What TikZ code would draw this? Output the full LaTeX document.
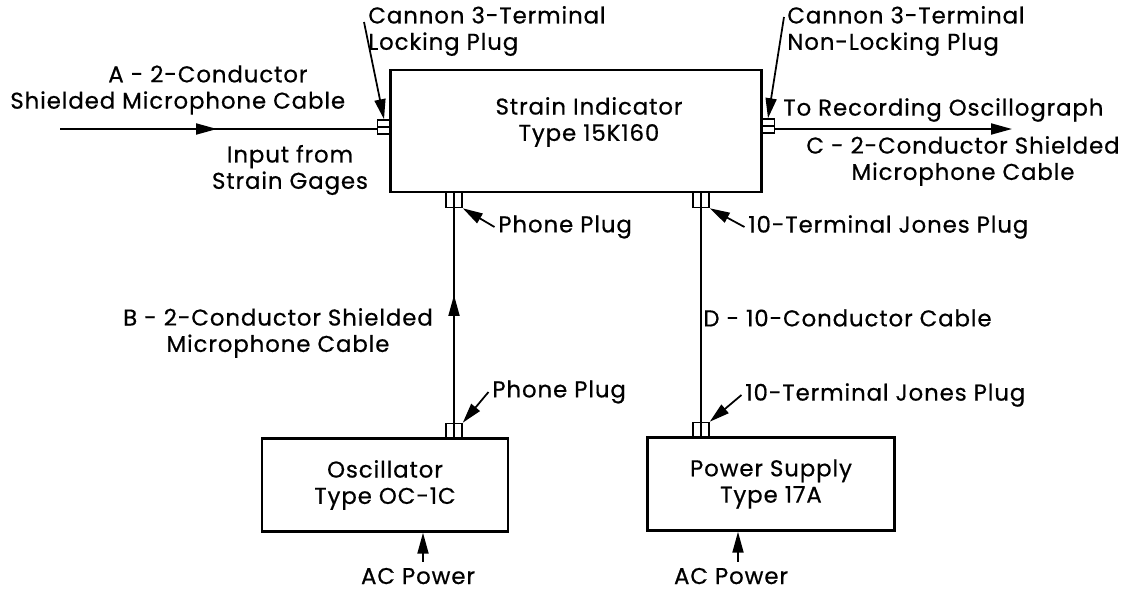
\documentclass[tikz,border=0pt]{standalone}
\usepackage{fontspec}
\setmainfont{Poppins}[FakeBold=0.6, LetterSpace=4]
\usetikzlibrary{positioning, arrows.meta}

\newcommand\lettering{\fontsize{13pt}{15pt}\selectfont}

\begin{document}
\begin{tikzpicture}[
    x=0.02cm, y=-0.02cm, % one unit per pixel of the drawing
    every node/.style={font=\lettering},
    unit/.style={draw, line width=1.4pt},
    plugh/.style={draw, line width=0.9pt, minimum width=0.26cm, minimum height=0.28cm, inner sep=0pt,
        path picture={\draw[line width=0.9pt] (path picture bounding box.west) -- (path picture bounding box.east);}},
    plugv/.style={draw, line width=0.9pt, minimum width=0.32cm, minimum height=0.3cm, inner sep=0pt,
        path picture={\draw[line width=0.9pt] (path picture bounding box.north) -- (path picture bounding box.south);}},
    note/.style={align=left, inner sep=0pt, anchor=west},
    cable/.style={line width=1.1pt},
    tip/.style={-{Triangle[length=0.42cm, width=0.22cm]}},
    lead/.style={line width=1pt, -{Triangle[length=0.4cm, width=0.22cm]}}
]
    \useasboundingbox (0,0) rectangle (1134,592);

    % Place the units
    \node[unit, minimum width=7.42cm, minimum height=2.44cm] (ind) at (576,131) {};
    \node[align=center, inner sep=0pt] (indText) at (589,122) {Strain Indicator\\Type 15K160};
    \node[unit, align=center, minimum width=4.92cm, minimum height=1.86cm] (osc) at (385,485) {Oscillator\\Type OC-1C};
    \node[unit, align=center, minimum width=4.94cm, minimum height=1.86cm] (psu) at (771,484) {Power Supply\\Type 17A};

    % Plugs
    \node[plugh] (pA) at (384,127) {};
    \node[plugh] (pC) at (768,126) {};
    \node[plugv] (pB1) at (454,200) {};
    \node[plugv] (pD1) at (701,200) {};
    \node[plugv] (pB2) at (454,431) {};
    \node[plugv] (pD2) at (701,430) {};

    % Labels
    \node[note] (cannonA) at (368,31) {Cannon 3-Terminal\\Locking Plug};
    \node[note] (cannonC) at (787,31) {Cannon 3-Terminal\\Non-Locking Plug};
    \node[note] (cableA) at (10,90) {\hspace*{1.96cm}A - 2-Conductor\\Shielded Microphone Cable};
    \node[align=center, inner sep=0pt] (input) at (290,170) {Input from\\Strain Gages};
    \node[note] (toC) at (783,110) {To Recording Oscillograph};
    \node[align=center, inner sep=0pt] (cableC) at (963,161) {C - 2-Conductor Shielded\\Microphone Cable};
    \node[note] (phone1) at (498,227) {Phone Plug};
    \node[note] (jones1) at (748,227) {10-Terminal Jones Plug};
    \node[align=center, inner sep=0pt] (cableB) at (278,333) {B - 2-Conductor Shielded\\Microphone Cable};
    \node[note] (cableD) at (703,318) {D - 10-Conductor Cable};
    \node[note] (phone2) at (492,392) {Phone Plug};
    \node[note] (jones2) at (745,395) {10-Terminal Jones Plug};
    \node[inner sep=0pt, anchor=base] (acO) at (418,584) {AC Power};
    \node[inner sep=0pt, anchor=base] (acP) at (731,584) {AC Power};

    % Cables
    \coordinate (inA) at (60,129);
    \coordinate (midA) at (217,129);
    \coordinate (outC) at (1012,129);
    \coordinate (midB) at (454,295);
    \draw[cable] (inA) -- (inA -| pA.west);
    \draw[cable, tip] (inA) -- (midA);
    \draw[cable, tip] (outC -| pC.east) -- (outC);
    \draw[cable] (pB2.north) -- (pB1.south);
    \draw[cable, tip] (pB2.north) -- (midB);
    \draw[cable] (pD2.north) -- (pD1.south);
    \draw[cable, tip] ([shift={(0.1cm,0.12cm)}]acO.north) -- ([xshift=0.1cm]acO.north |- osc.south);
    \draw[cable, tip] ([shift={(0.14cm,0.12cm)}]acP.north) -- ([xshift=0.14cm]acP.north |- psu.south);

    % Leaders to the plugs
    \coordinate (tA) at (364,22);
    \coordinate (tC) at (784,17);
    \draw[lead] (tA) -- (pA.north);
    \draw[lead] (tC) -- (pC.north);
    \draw[lead] ([xshift=-2pt]phone1.west) -- (pB1.south east);
    \draw[lead] ([xshift=-2pt]jones1.west) -- (pD1.south east);
    \draw[lead] ([xshift=-2pt]phone2.west) -- (pB2.north east);
    \draw[lead] ([xshift=-2pt]jones2.west) -- (pD2.north east);
\end{tikzpicture}
\end{document}
